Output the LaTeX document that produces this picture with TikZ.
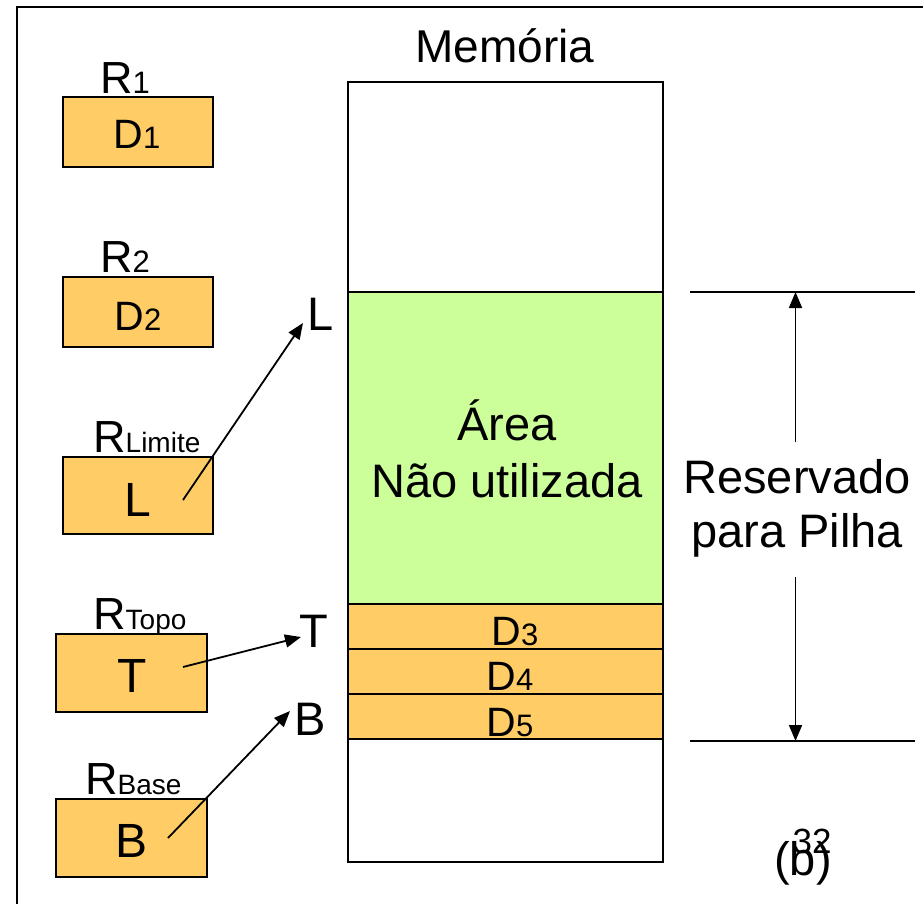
\documentclass[tikz,border=0pt]{standalone}
\usepackage{fontspec}
\setmainfont{Liberation Sans}
\usetikzlibrary{arrows.meta}
\definecolor{regfill}{HTML}{FFCC66}
\definecolor{freefill}{HTML}{CCFF99}
\newcommand{\fsz}[1]{\fontsize{#1}{#1}\selectfont}
\begin{document}
\begin{tikzpicture}[x=1pt,y=-1pt,
  regbox/.style={draw, fill=regfill, line width=2pt, inner sep=0pt, minimum width=150pt, minimum height=70pt},
  band/.style={draw, line width=2pt},
  txt/.style={anchor=base, inner sep=0pt, font=\fsz{47}},
  txtw/.style={anchor=base west, inner sep=0pt},
  ptr/.style={line width=1.8pt, -{Triangle[length=16pt,width=13pt]}},
  plain/.style={line width=2pt}]
\useasboundingbox (0,0) rectangle (923,904);
\clip (0,0) rectangle (923,904);
\fill[white] (0,0) rectangle (923,904);
% frame
\coordinate (fbl) at (17,940);
\coordinate (ftl) at (17,7);
\coordinate (ftr) at (950,7);
\draw[plain] (fbl) -- (ftl) -- (ftr);

% memory column
\draw[band] (348,82) rectangle (663,862);
\draw[band, fill=freefill] (348,292) rectangle (663,604);
\draw[band, fill=regfill] (348,604) rectangle (663,649);
\draw[band, fill=regfill] (348,649) rectangle (663,694);
\draw[band, fill=regfill] (348,694) rectangle (663,739);
\node[txt, font=\fsz{46}] (mem) at (505,63) {Memória};
\node[txt] (area) at (507,440) {Área};
\node[txt] (nao) at (507,497) {Não utilizada};
\node[txt] (d3) at (515,645) {{\fsz{41}D}{\fsz{31}3}};
\node[txt] (d4) at (510,690) {{\fsz{41}D}{\fsz{31}4}};
\node[txt] (d5) at (510,736) {{\fsz{41}D}{\fsz{31}5}};

% registers
\node[regbox] (b1) at (138,132) {};
\node[regbox] (b2) at (138,312) {};
\node[regbox, minimum height=77pt] (bl) at (138,495.5) {};
\node[regbox, minimum width=151pt, minimum height=78pt] (bt) at (131.5,673) {};
\node[regbox, minimum width=151pt, minimum height=78pt] (bb) at (131.5,838) {};

\node[txtw] (r1) at (100,94) {{\fsz{45}R}{\fsz{31}1}};
\node[txtw] (r2) at (100,272) {{\fsz{45}R}{\fsz{31}2}};
\node[txtw] (rl) at (93,452) {{\fsz{45}R}{\fsz{28}Limite}};
\node[txtw] (rt) at (93,629) {{\fsz{45}R}{\fsz{28}Topo}};
\node[txtw] (rb) at (85,794) {{\fsz{45}R}{\fsz{28}Base}};

\node[txt] (t1) at (137,149) {{\fsz{41}D}{\fsz{31}1}};
\node[txt] (t2) at (138,330) {{\fsz{41}D}{\fsz{31}2}};
\node[txt, font=\fsz{48}] (tl) at (138,516) {L};
\node[txt, font=\fsz{48}] (tt) at (132,692) {T};
\node[txt, font=\fsz{48}] (tb) at (132,857) {B};

% pointer labels
\node[txtw, font=\fsz{47}] (ll) at (307,330) {L};
\node[txtw, font=\fsz{47}] (lt) at (299,647) {T};
\node[txtw, font=\fsz{47}] (lb) at (294,735) {B};

% pointers
\coordinate (ls) at (183,500); \coordinate (le) at (303,323);
\coordinate (ts) at (183,667); \coordinate (te) at (301,637);
\coordinate (bs) at (168,838); \coordinate (be) at (290,711);
\draw[ptr] (ls) -- (le);
\draw[ptr] (ts) -- (te);
\draw[ptr] (bs) -- (be);

% reserved dimension
\coordinate (ta) at (690,292); \coordinate (tb2) at (915,292);
\coordinate (ba) at (690,741); \coordinate (bb2) at (915,741);
\draw[plain] (ta) -- (tb2);
\draw[plain] (ba) -- (bb2);
\node[txt] (res) at (797,493) {Reservado};
\node[txt] (pil) at (797,547) {para Pilha};
\coordinate (ua) at (795.5,442); \coordinate (ub) at (795.5,292);
\coordinate (da) at (795.5,577); \coordinate (db) at (795.5,741);
\draw[ptr] (ua) -- (ub);
\draw[ptr] (da) -- (db);

% slide marks
\node[txt] (lab) at (803,875) {(b)};
\node[txt, font=\fsz{35}] (num) at (812,853) {32};
\end{tikzpicture}
\end{document}
